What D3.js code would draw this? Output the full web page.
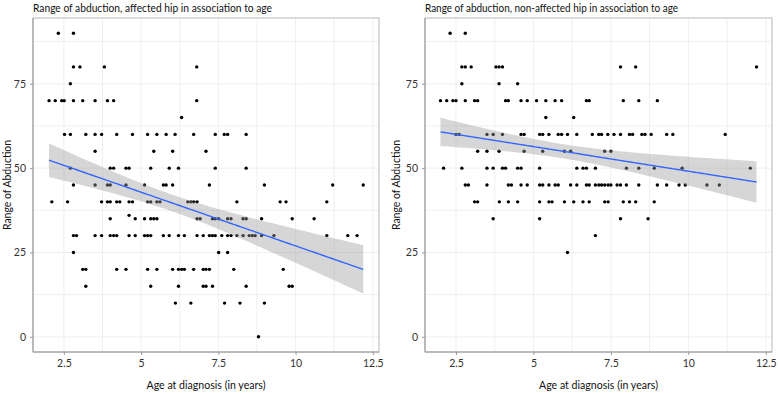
<!DOCTYPE html>
<html><head><meta charset="utf-8">
<script src="https://cdn.jsdelivr.net/npm/d3@7"></script>
<style>body{margin:0;background:#fff}svg{display:block}</style>
</head><body>
<svg id="c" width="778" height="393"></svg>
<script>
// ---- data: abduction (degrees) -> list of ages at diagnosis (years)
const affectedRows = [
  [90,[2.32,2.81]],
  [80,[2.81,3.02,3.81,6.80]],
  [75,[2.71]],
  [70,[2.02,2.22,2.43,2.51,2.81,3.11,3.51,3.91,4.11,6.80]],
  [65,[6.31]],
  [60,[2.52,2.71,3.21,3.51,3.72,4.21,4.72,5.21,5.51,5.81,6.10,6.70,7.40,7.69,7.80,8.40]],
  [55,[3.51,5.41,6.02,7.10]],
  [50,[2.71,4.00,4.11,4.51,4.61,5.31,5.91,6.21,7.40,8.40]],
  [45,[2.81,3.51,3.91,4.00,4.51,5.11,5.72,5.81,6.02,7.21,8.99,11.20,12.19]],
  [40,[2.11,2.62,3.72,3.91,4.00,4.21,4.31,4.61,4.72,5.21,5.31,5.51,5.61,6.51,6.61,6.70,6.81,8.10,9.50,9.69,11.01]],
  [36,[4.61]],
  [35,[4.00,4.81,5.11,5.31,5.41,5.51,6.81,6.91,7.31,7.40,7.51,7.80,7.91,8.30,8.40,8.90,9.89,10.60]],
  [30,[2.81,2.91,3.51,3.72,4.00,4.11,4.21,4.61,4.81,5.11,5.21,5.31,5.72,5.91,6.21,6.40,6.81,7.01,7.21,7.31,7.40,7.61,7.80,7.91,8.10,8.30,8.50,8.60,8.69,8.90,9.30,11.01,11.69,11.99]],
  [25,[2.81,7.51,7.80]],
  [20,[3.11,3.21,4.21,4.51,5.21,5.51,6.02,6.21,6.31,6.40,6.70,7.01,7.10,7.21,8.00,9.60]],
  [15,[3.21,5.31,6.21,7.01,7.10,7.31,8.40,9.79,9.89]],
  [10,[6.11,6.61,7.70,8.20,8.99]],
  [0,[8.80]]
];
const nonAffectedRows = [
  [90,[2.31,2.80]],
  [80,[2.69,2.80,2.99,3.79,3.89,4.00,7.81,8.30,12.20]],
  [75,[2.69,3.89,4.49]],
  [70,[2.00,2.20,2.40,2.50,2.80,3.10,3.20,4.10,4.19,4.60,4.80,5.10,5.40,5.70,5.91,6.71,6.80,7.90,8.40,9.00]],
  [65,[5.40,6.30]],
  [60,[2.50,2.60,3.50,3.70,4.00,4.60,4.70,5.20,5.30,5.50,5.80,5.91,6.10,6.40,6.90,7.11,7.20,7.40,7.60,7.81,8.10,8.20,8.50,8.60,8.80,9.30,9.50,11.19]],
  [55,[3.20,3.50,3.89,4.70,5.30,6.00,6.20,7.30,7.50]],
  [50,[2.10,2.69,3.50,3.70,4.00,4.10,4.49,4.60,5.20,6.40,6.60,6.71,7.00,8.00,8.40,8.90,9.80,12.00]],
  [45,[2.80,2.90,3.50,4.19,4.29,4.60,4.80,5.20,5.30,5.50,5.70,5.80,6.20,6.40,6.71,6.80,7.00,7.11,7.20,7.30,7.41,7.50,7.70,7.81,8.00,8.40,9.00,9.30,9.70,9.90,10.60,11.00]],
  [40,[3.10,3.20,3.90,4.19,4.49,5.20,5.50,5.60,6.00,6.30,6.60,6.80,7.30,7.41,7.90,8.10,8.30,8.90]],
  [35,[3.70,5.20,7.81,8.70]],
  [30,[7.00]],
  [25,[6.10]]
];
const xTicks = [2.5, 5, 7.5, 10, 12.5];
const xTickLabels = ["2.5", "5", "7.5", "10", "12.5"];
const yTicks = [0, 25, 50, 75];
const yTickLabels = ["0", "25", "50", "75"];
const titles = ["Range of abduction, affected hip in association to age",
                "Range of abduction, non-affected hip in association to age"];
const xTitle = "Age at diagnosis (in years)";
const yTitle = "Range of Abduction";

// ---- drawing
const svg = d3.select("#c");
const font = "Lato, 'Open Sans', sans-serif";
const panels = [
  {rows: affectedRows, x0: 33, x1: 379, title: titles[0], tl: 239, yt: 8},
  {rows: nonAffectedRows, x0: 425, x1: 772, title: titles[1], tl: 253, yt: 397}
];
const pTop = 18, pBottom = 352;

function flatten(rows){ const out=[]; rows.forEach(([v,ages])=>ages.forEach(a=>out.push({x:a,y:v}))); return out; }

function fit(pts){
  const n = pts.length;
  const mx = d3.mean(pts,d=>d.x), my = d3.mean(pts,d=>d.y);
  let sxx=0, sxy=0;
  pts.forEach(d=>{sxx+=(d.x-mx)**2; sxy+=(d.x-mx)*(d.y-my);});
  const b = sxy/sxx, a = my - b*mx;
  let sse=0; pts.forEach(d=>{sse+=(d.y-a-b*d.x)**2;});
  const s = Math.sqrt(sse/(n-2));
  const t = 1.972;
  const [lo,hi] = d3.extent(pts,d=>d.x);
  return d3.range(0,81).map(i=>{
    const x = lo + (hi-lo)*i/80;
    const yh = a + b*x;
    const se = s*Math.sqrt(1/n + (x-mx)**2/sxx);
    return {x, y:yh, lo:yh-t*se, hi:yh+t*se};
  });
}

panels.forEach(p=>{
  const pts = flatten(p.rows);
  const x = d3.scaleLinear().domain([1.5,12.7]).range([p.x0,p.x1]);
  const y = d3.scaleLinear().domain([-4.5,94.5]).range([pBottom,pTop]);
  const g = svg.append("g");
  // grid
  const gx = d3.range(2.5,12.51,1.25), gy = d3.range(0,94,12.5);
  g.selectAll(".gx").data(gx).join("line").attr("x1",d=>x(d)).attr("x2",d=>x(d))
    .attr("y1",pTop).attr("y2",pBottom).attr("stroke","#ebebeb").attr("stroke-width",0.8);
  g.selectAll(".gy").data(gy).join("line").attr("y1",d=>y(d)).attr("y2",d=>y(d))
    .attr("x1",p.x0).attr("x2",p.x1).attr("stroke","#ebebeb").attr("stroke-width",0.8);
  // points
  g.selectAll(".pt").data(pts).join("circle").attr("cx",d=>x(d.x)).attr("cy",d=>y(d.y))
    .attr("r",1.7).attr("fill","#000");
  // smooth
  const f = fit(pts);
  g.append("path").datum(f).attr("d",d3.area().x(d=>x(d.x)).y0(d=>y(d.lo)).y1(d=>y(d.hi)))
    .attr("fill","#999").attr("fill-opacity",0.4);
  g.append("path").datum(f).attr("d",d3.line().x(d=>x(d.x)).y(d=>y(d.y)))
    .attr("fill","none").attr("stroke","#3366FF").attr("stroke-width",1.4);
  // border
  g.append("rect").attr("x",p.x0).attr("y",pTop).attr("width",p.x1-p.x0).attr("height",pBottom-pTop)
    .attr("fill","none").attr("stroke","#b8b8b8").attr("stroke-width",1);
  g.append("path").attr("d",`M${p.x0},${pTop}V${pBottom}H${p.x1}`).attr("fill","none")
    .attr("stroke","#9a9a9a").attr("stroke-width",1);
  // axes
  const xa = g.append("g").attr("transform",`translate(0,${pBottom})`)
    .call(d3.axisBottom(x).tickValues(xTicks).tickFormat((d,i)=>xTickLabels[i]).tickSize(3).tickPadding(5));
  const ya = g.append("g").attr("transform",`translate(${p.x0},0)`)
    .call(d3.axisLeft(y).tickValues(yTicks).tickFormat((d,i)=>yTickLabels[i]).tickSize(3).tickPadding(4));
  [xa,ya].forEach(a=>{
    a.select(".domain").remove();
    a.selectAll(".tick line").attr("stroke","#9a9a9a");
    a.selectAll("text").attr("font-family",font).attr("font-size",10.5).attr("fill","#333");
  });
  // titles
  svg.append("text").attr("x",p.x0).attr("y",12).attr("font-family",font).attr("font-size",11)
    .attr("fill","#111").attr("textLength",p.tl).attr("lengthAdjust","spacingAndGlyphs").text(p.title);
  svg.append("text").attr("x",(p.x0+p.x1)/2).attr("y",389).attr("text-anchor","middle")
    .attr("font-family",font).attr("font-size",11).attr("fill","#111")
    .attr("textLength",119).attr("lengthAdjust","spacingAndGlyphs").text(xTitle);
  svg.append("text").attr("transform",`translate(${p.yt+3},${(pTop+pBottom)/2}) rotate(-90)`)
    .attr("text-anchor","middle").attr("font-family",font).attr("font-size",11).attr("fill","#111")
    .attr("textLength",90).attr("lengthAdjust","spacingAndGlyphs").text(yTitle);
});
</script>
</body></html>
